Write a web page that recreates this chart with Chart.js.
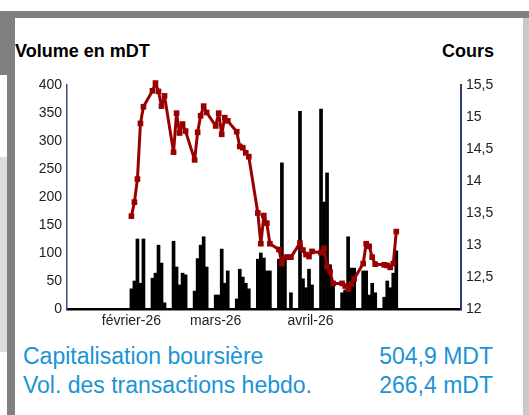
<!DOCTYPE html>
<html lang="fr">
<head>
    <meta charset="UTF-8">
    <title>Volume et cours</title>
    <script src="https://cdn.jsdelivr.net/npm/chart.js"></script>
    <style>
        body { margin: 0; background: #fff; font-family: "Liberation Sans", Arial, sans-serif; }
        #page { position: relative; width: 529px; height: 415px; overflow: hidden; background: #fff; }
        .band { position: absolute; background: #808080; }
        .axis-title { position: absolute; font-size: 18px; line-height: 18px; font-weight: bold; color: #000; }
        .info { position: absolute; font-size: 23px; line-height: 23px; color: #1a94d6; white-space: nowrap; }
        canvas { position: absolute; left: 0; top: 0; }
    </style>
</head>
<body>
<div id="page">
    <div class="band" style="left:0;top:11px;width:529px;height:7px"></div>
    <div class="band" style="left:7px;top:11px;width:8px;height:404px"></div>
    <div class="band" style="left:0;top:11px;width:7px;height:64px"></div>
    <div style="position:absolute;left:0;top:157px;width:7px;height:195px;background:#dddddd"></div>
    <div style="position:absolute;left:523px;top:18px;width:6px;height:397px;background:#c8c8c8"></div>

    <div class="axis-title" style="left:15px;top:42px">Volume en mDT</div>
    <div class="axis-title" style="left:442px;top:42px">Cours</div>

    <canvas id="chart" width="529" height="340"></canvas>

    <div class="info" style="left:23px;top:345px">Capitalisation boursière</div>
    <div class="info" style="right:36px;top:345px">504,9 MDT</div>
    <div class="info" style="left:23px;top:374px">Vol. des transactions hebdo.</div>
    <div class="info" style="right:36px;top:374px">266,4 mDT</div>
</div>

<script>
    // trading days, as day of year 2026 (33 = lundi 2 février)
    const days = [
        33, 34, 35, 36, 37,   40, 41, 42, 43, 44,   47, 48, 49, 50, 51,
        54, 55, 56, 57, 58,   61, 62, 63, 64, 65,   68, 69, 70, 71, 72,
        75, 76, 77, 78, 79,   82, 83, 84, 85, 86,   89, 90, 91, 92, 93,
        96, 97, 98, 99, 100,  103, 104, 105, 106, 107,
        110, 111, 112, 113, 114,  117, 118, 119, 120, 121
    ];

    // volume en mDT
    const volumes = [
        36, 50, 125, 46, 125,   55, 64, 114, 82, 11,   121, 75, 43, 64, 61,
        32, 90, 114, 129, 75,   25, 25, 107, 46, 68,  18, 71, 57, 46, 36,
        89, 100, 91, 68, 68,    89, 261, 91, 0, 29,   353, 54, 38, 71, 43,
        357, 191, 243, 79, 46,  29, 34, 129, 73, 73,
        68, 68, 25, 46, 29,     21, 50, 38, 64, 104
    ];

    // cours
    const prices = [
        13.45, 13.67, 14.03, 14.90, 15.16,   15.41, 15.53, 15.40, 15.17, 15.33,
        14.45, 15.06, 14.75, 14.89, 14.78,   14.33, 14.76, 15.02, 15.17, 15.07,
        14.86, 15.06, 14.73, 14.99, 14.94,   14.77, 14.54, 14.52, 14.44, 14.38,
        13.50, 13.02, 13.46, 13.34, 13.02,   12.93, 12.71, 12.81, 12.81, 12.81,
        13.03, 12.92, 12.85, 12.82, 12.90,   12.88, 12.95, 12.66, 12.58, 12.40,
        12.40, 12.36, 12.31, 12.39, 12.47,   12.71, 13.02, 12.98, 12.81, 12.70,
        12.69, 12.68, 12.65, 12.71, 13.21
    ];

    const tickDays = [33, 61, 92.5];
    const tickLabels = ['février-26', 'mars-26', 'avril-26'];

    const volumeData = days.map((d, i) => ({ x: d, y: volumes[i] }));
    const priceData = days.map((d, i) => ({ x: d, y: prices[i] }));

    const tickFont = { family: 'Liberation Sans', size: 14 };

    new Chart(document.getElementById('chart').getContext('2d'), {
        data: {
            datasets: [
                {
                    type: 'line',
                    data: priceData,
                    yAxisID: 'y1',
                    borderColor: '#990000',
                    borderWidth: 3,
                    borderJoinStyle: 'round',
                    pointStyle: 'rect',
                    pointRadius: 4,
                    pointBackgroundColor: '#990000',
                    pointBorderColor: '#990000',
                    pointBorderWidth: 0,
                    tension: 0,
                    clip: false,
                    order: 1
                },
                {
                    type: 'bar',
                    data: volumeData,
                    yAxisID: 'y',
                    backgroundColor: '#000',
                    barPercentage: 1,
                    categoryPercentage: 1,
                    order: 2
                }
            ]
        },
        options: {
            responsive: false,
            animation: false,
            layout: { padding: { top: 85, bottom: 0, left: 0, right: 0 } },
            plugins: { legend: { display: false }, tooltip: { enabled: false } },
            scales: {
                x: {
                    type: 'linear',
                    offset: false,
                    min: 11.6,
                    max: 142.5,
                    afterBuildTicks: (scale) => { scale.ticks = tickDays.map(v => ({ value: v })); },
                    afterFit: (scale) => { scale.height = 31; },
                    grid: { display: false, drawTicks: false },
                    border: { display: true, color: '#000', width: 2.5 },
                    ticks: {
                        autoSkip: false, maxRotation: 0, padding: 4,
                        color: '#222', font: tickFont,
                        callback: (v, i) => tickLabels[i]
                    }
                },
                y: {
                    position: 'left',
                    min: 0,
                    max: 400,
                    afterFit: (scale) => { scale.width = 67; },
                    grid: { display: false, drawTicks: false },
                    border: { display: true, color: '#3b4a86', width: 1.5 },
                    ticks: { stepSize: 50, padding: 5, color: '#222', font: tickFont }
                },
                y1: {
                    position: 'right',
                    min: 12,
                    max: 15.5,
                    afterFit: (scale) => { scale.width = 68; },
                    grid: { display: false, drawTicks: false },
                    border: { display: true, color: '#2f3b78', width: 2 },
                    ticks: {
                        stepSize: 0.5, padding: 5, color: '#222', font: tickFont,
                        callback: (v) => String(v).replace('.', ',')
                    }
                }
            }
        }
    });
</script>
</body>
</html>
